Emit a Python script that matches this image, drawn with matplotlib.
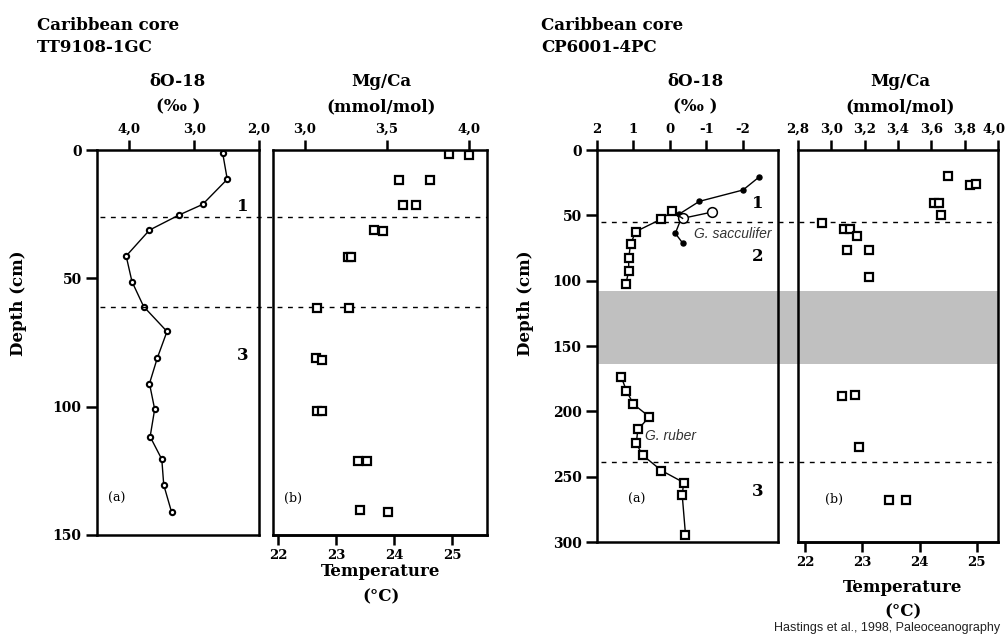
import matplotlib.pyplot as plt
from matplotlib.transforms import ScaledTranslation

W, H = 1006, 642

# ---------- core TT9108-1GC ----------
tt_d18o_depth = [1.3, 11.4, 21.2, 25.4, 31.2, 41.3, 51.3, 61.0, 70.7, 81.1,
                 91.0, 101.0, 111.7, 120.5, 130.5, 141.0]
tt_d18o = [2.56, 2.49, 2.87, 3.24, 3.69, 4.05, 3.96, 3.78, 3.42, 3.57,
           3.69, 3.61, 3.68, 3.50, 3.47, 3.35]
tt_mgca_depth = [1.6, 1.8, 11.8, 11.8, 21.3, 21.3, 31.2, 31.7, 41.7, 41.7,
                 61.7, 61.7, 81.2, 81.8, 101.7, 101.7, 121.2, 121.2, 140.4, 140.9]
tt_mgca = [3.88, 4.00, 3.575, 3.765, 3.595, 3.675, 3.42, 3.475, 3.26, 3.28,
           3.075, 3.27, 3.065, 3.105, 3.075, 3.105, 3.325, 3.38, 3.335, 3.505]
tt_zones = [26.0, 61.3]

# ---------- core CP6001-4PC ----------
cp_sacc_depth = [20.7, 30.6, 39.3, 49.0, 50.5, 63.8, 71.5]
cp_sacc = [-2.45, -2.01, -0.81, -0.26, -0.34, -0.15, -0.36]
cp_open_depth = [47.5, 52.3]
cp_open = [-1.16, -0.35]
cp_ruber_top_depth = [52.3, 47.0, 52.8, 62.5, 72.2, 82.9, 92.9, 102.6]
cp_ruber_top = [-0.35, -0.06, 0.23, 0.94, 1.08, 1.13, 1.13, 1.21]
cp_ruber_bot_depth = [174.0, 184.3, 194.5, 204.2, 213.9, 224.6, 233.5, 245.3,
                      254.5, 264.2, 294.3]
cp_ruber_bot = [1.33, 1.19, 1.00, 0.56, 0.88, 0.92, 0.75, 0.23, -0.38, -0.34, -0.43]
cp_mgca_depth = [19.7, 26.5, 25.8, 40.8, 40.8, 50.0, 55.9, 60.7, 60.7, 65.8,
                 76.6, 76.6, 97.0, 188.1, 187.3, 227.2, 267.5, 267.5]
cp_mgca = [3.70, 3.83, 3.865, 3.615, 3.645, 3.66, 2.945, 3.075, 3.11, 3.155,
           3.095, 3.225, 3.225, 3.065, 3.14, 3.165, 3.345, 3.445]
cp_zones = [54.9, 238.4]
cp_gap = (108.0, 163.4)

# tick labels
tt_d18o_ticks = [4.0, 3.0, 2.0]
tt_d18o_labels = ['4,0', '3,0', '2,0']
tt_mgca_ticks = [3.0, 3.5, 4.0]
tt_mgca_labels = ['3,0', '3,5', '4,0']
cp_d18o_ticks = [2, 1, 0, -1, -2]
cp_d18o_labels = ['2', '1', '0', '-1', '-2']
cp_mgca_ticks = [2.8, 3.0, 3.2, 3.4, 3.6, 3.8, 4.0]
cp_mgca_labels = ['2,8', '3,0', '3,2', '3,4', '3,6', '3,8', '4,0']
temp_ticks = [22, 23, 24, 25]

plt.rcParams['font.family'] = 'DejaVu Serif'
plt.rcParams['font.weight'] = 'bold'
fig = plt.figure(figsize=(W / 100, H / 100), dpi=100)


def px_axes(x0, x1, yt, yb):
    return fig.add_axes([x0 / W, 1 - yb / H, (x1 - x0) / W, (yb - yt) / H])


def ftext(x, y, s, **kw):
    fig.text(x / W, 1 - y / H, s, **kw)


def style(ax, ticks, labels, show_y):
    for sp in ax.spines.values():
        sp.set_linewidth(1.8)
    ax.xaxis.tick_top()
    ax.set_xticks(ticks)
    ax.set_xticklabels(labels)
    ax.tick_params(axis='x', direction='out', length=7, width=1.8, pad=3,
                   labelsize=9.5)
    if show_y:
        ax.tick_params(axis='y', direction='out', length=8, width=1.8, pad=3,
                       labelsize=10)
    else:
        ax.tick_params(axis='y', left=False, labelleft=False)


def temp_axis(ax, mg23, slope):
    f = (lambda m: 23 + (m - mg23) / slope)
    g = (lambda t: mg23 + (t - 23) * slope)
    sec = ax.secondary_xaxis('bottom', functions=(f, g))
    sec.set_xticks(temp_ticks)
    sec.tick_params(direction='out', length=7, width=1.8, labelsize=9.5, pad=3)
    sec.spines['bottom'].set_linewidth(1.8)
    return sec


dash = (0, (3.5, 4))
sq = dict(ms=5.2, mfc='white', mec='k', mew=1.6)

# ===== left figure =====
a1 = px_axes(97, 259, 150, 535)
b1 = px_axes(273, 487, 150, 535)
a1.set_xlim(4.5, 2.0)
a1.set_ylim(150, 0)
b1.set_xlim(2.805, 4.11)
b1.set_ylim(150, 0)
b1.set_facecolor('none')
style(a1, tt_d18o_ticks, tt_d18o_labels, True)
a1.set_yticks([0, 50, 100, 150])
style(b1, tt_mgca_ticks, tt_mgca_labels, False)
temp_axis(b1, 3.189, 0.3535)

a1.plot(tt_d18o, tt_d18o_depth, '-', color='k', lw=1, marker='o', ms=3.8,
        mfc='white', mec='k', mew=1.5)
b1.plot(tt_mgca, tt_mgca_depth, 's', ls='none', **sq)

span1 = (b1.get_position().x1 - a1.get_position().x0) / a1.get_position().width
for z in tt_zones:
    a1.axhline(z, xmin=0.02, xmax=span1, ls=dash, lw=1, color='k', clip_on=False)

a1.text(2.25, 22, '1', fontsize=12, ha='center', va='center')
a1.text(2.25, 80, '3', fontsize=12, ha='center', va='center')
a1.text(4.19, 135.6, '(a)', fontsize=9, fontweight='normal', ha='center', va='center')
b1.text(2.927, 135.6, '(b)', fontsize=9, fontweight='normal', ha='center', va='center')

# ===== right figure =====
a2 = px_axes(597, 778, 150, 542)
b2 = px_axes(798, 998, 150, 542)
a2.set_xlim(2, -2.97)
a2.set_ylim(300, 0)
b2.set_xlim(2.8, 4.0)
b2.set_ylim(300, 0)
b2.set_facecolor('none')
style(a2, cp_d18o_ticks, cp_d18o_labels, True)
a2.set_yticks([0, 50, 100, 150, 200, 250, 300])
style(b2, cp_mgca_ticks, cp_mgca_labels, False)
temp_axis(b2, 3.187, 0.343)
# keep the last Mg/Ca label inside the picture
last = b2.get_xticklabels()[-1]
last.set_transform(last.get_transform() + ScaledTranslation(-4 / 100, 0, fig.dpi_scale_trans))

span2 = (b2.get_position().x1 - a2.get_position().x0) / a2.get_position().width
a2.axhspan(cp_gap[0], cp_gap[1], xmin=0, xmax=span2, color='#c0c0c0', lw=0,
           zorder=0, clip_on=False)
for z in cp_zones:
    a2.axhline(z, xmin=0.02, xmax=span2, ls=dash, lw=1, color='k', clip_on=False)

a2.plot(cp_sacc, cp_sacc_depth, '-', color='k', lw=1, marker='o', ms=3.6, mfc='k', mec='k')
a2.plot(cp_open, cp_open_depth, '-', color='k', lw=1, marker='o', ms=7,
        mfc='white', mec='k', mew=1.1)
a2.plot(cp_ruber_top, cp_ruber_top_depth, '-', color='k', lw=1, marker='s',
        markevery=slice(1, None), **sq)
a2.plot(cp_ruber_bot, cp_ruber_bot_depth, '-', color='k', lw=1, marker='s', **sq)
b2.plot(cp_mgca, cp_mgca_depth, 's', ls='none', **sq)

a2.text(-2.42, 40.8, '1', fontsize=12, ha='center', va='center')
a2.text(-2.42, 81.7, '2', fontsize=12, ha='center', va='center')
a2.text(-2.42, 261, '3', fontsize=12, ha='center', va='center')
a2.text(-0.65, 64.3, 'G. sacculifer', family='Liberation Sans', style='italic',
        fontweight='normal', fontsize=10, ha='left', va='center', color='#333333')
a2.text(0.67, 219, 'G. ruber', family='Liberation Sans', style='italic',
        fontweight='normal', fontsize=10, ha='left', va='center', color='#333333')
a2.text(0.9, 267.5, '(a)', fontsize=9, fontweight='normal', ha='center', va='center')
b2.text(3.013, 267.5, '(b)', fontsize=9, fontweight='normal', ha='center', va='center')

# ===== texts =====
hdr = dict(fontsize=12, ha='left', va='center')
ftext(37, 25, 'Caribbean core', **hdr)
ftext(37, 48, 'TT9108-1GC', **hdr)
ftext(541, 25, 'Caribbean core', **hdr)
ftext(541, 48, 'CP6001-4PC', **hdr)

sub = dict(fontsize=12, ha='center', va='center')
ftext(178, 82, 'δO-18', **sub)
ftext(178, 107, '(‰ )', **sub)
ftext(381, 82, 'Mg/Ca', **sub)
ftext(381, 107, '(mmol/mol)', **sub)
ftext(696, 82, 'δO-18', **sub)
ftext(695, 107, '(‰ )', **sub)
ftext(900, 82, 'Mg/Ca', **sub)
ftext(900, 107, '(mmol/mol)', **sub)

ftext(381, 572, 'Temperature', **sub)
ftext(381, 597, '(°C)', **sub)
ftext(903, 587, 'Temperature', **sub)
ftext(903, 612, '(°C)', **sub)

ftext(19, 303, 'Depth (cm)', fontsize=12, rotation=90, ha='center', va='center')
ftext(525, 303, 'Depth (cm)', fontsize=12, rotation=90, ha='center', va='center')

ftext(1000, 628, 'Hastings et al., 1998, Paleoceanography', family='Liberation Sans',
      fontweight='normal', fontsize=9, ha='right', va='center', color='#222222')

fig.savefig('out.png', dpi=100)
